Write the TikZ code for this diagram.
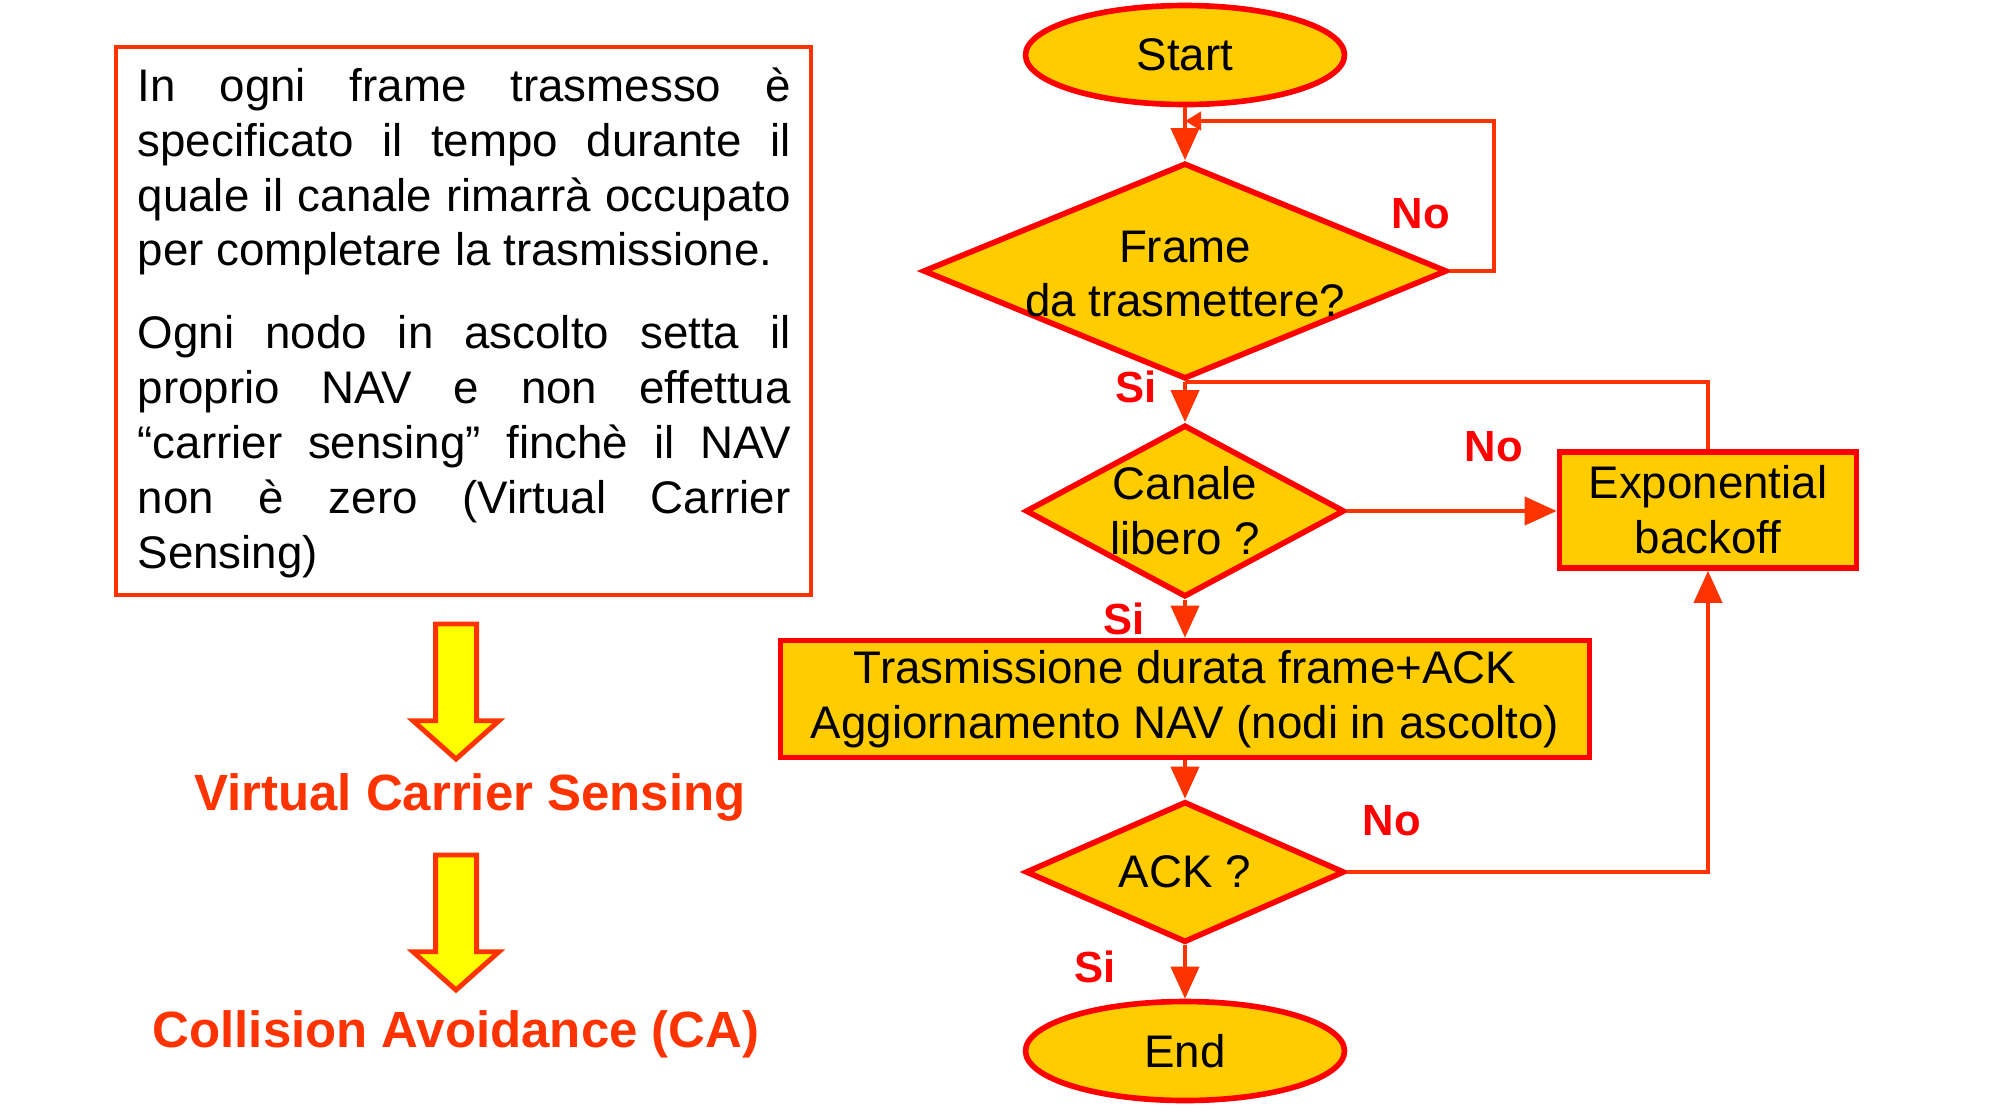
\documentclass[tikz,border=0pt]{standalone}
\usepackage{fontspec}
\setmainfont{Liberation Sans}
\usetikzlibrary{arrows.meta,shapes.geometric}
\definecolor{flowfill}{HTML}{FFCC00}
\definecolor{flowline}{HTML}{FF3300}
\definecolor{flowred}{HTML}{FF0000}
\definecolor{arrowfill}{HTML}{FFFF00}
\tikzset{
  >={Triangle[length=3.2mm,width=2.8mm]},
  every node/.append style={font=\fontsize{13}{15.6}\selectfont},
}
\tikzset{
  term/.style={ellipse, draw=flowred, fill=flowfill, line width=1.6pt,
               minimum width=31.9mm, minimum height=9.9mm, inner sep=0pt},
  decision/.style={diamond, draw=flowred, fill=flowfill, line width=1.6pt, inner sep=0pt},
  proc/.style={draw=flowred, fill=flowfill, line width=1.6pt, align=center, inner sep=0pt},
  link/.style={->, draw=flowline, line width=1.1pt},
  wire/.style={draw=flowline, line width=1.1pt}
}

\begin{document}
\begin{tikzpicture}[x=0.1mm, y=-0.1mm,
  yes/.style ={font=\fontsize{12.4}{14}\selectfont\bfseries, text=flowred},
  big/.style ={font=\fontsize{14.5}{17}\selectfont\bfseries, text=flowline},
  block/.style={draw=flowline, fill=arrowfill, line width=1.4pt, line join=miter},
  note/.style ={inner sep=0pt, text width=65.3mm, align=justify, anchor=north west}
]
\useasboundingbox (0,0) rectangle (2002,1104);

% flowchart
\node[term] (start) at (1185,55) {Start};
\node[decision, minimum width=52.4mm, minimum height=21.6mm,
  label={[align=center, yshift=-0.3mm]center:Frame\\da trasmettere?}] (frame) at (1185,271) {};
\node[decision, minimum width=31.9mm, minimum height=17.2mm,
  label={[align=center]center:Canale\\libero ?}] (canale) at (1185,511) {};
\node[proc, minimum width=29.7mm, minimum height=11.6mm] (expo) at (1708,510) {Exponential\\backoff};
\node[proc, minimum width=80.9mm, minimum height=11.7mm] (tx) at (1185,699)
  {Trasmissione durata frame+ACK\\Aggiornamento NAV (nodi in ascolto)};
\node[decision, minimum width=31.9mm, minimum height=14.1mm,
  label={center:ACK ?}] (ack) at (1185,872) {};
\node[term] (end) at (1185,1051) {End};

\coordinate (back) at (1185,121);

\draw[link] (start) -- (frame);
\draw[wire, -{Triangle[length=1.6mm,width=1.8mm]}] (frame.east) -- ++(44,0) |- (back);
\draw[link] (frame) -- (canale);
\draw[wire] (frame.south) -| (expo.north);
\draw[link] (canale.east) -- (canale.east -| expo.west);
\draw[link] (canale) -- (tx);
\draw[link] (tx) -- (ack);
\draw[link] (ack.east) -| (expo.south);
\draw[link] (ack) -- (end);

\node[yes] (no1) at (1421,214) {No};
\node[yes] (si1) at (1136,387) {Si};
\node[yes] (no2) at (1494,447) {No};
\node[yes] (si2) at (1124,619) {Si};
\node[yes] (no3) at (1392,821) {No};
\node[yes] (si3) at (1095,967) {Si};

% left column
\node[draw=flowline, line width=1.2pt, minimum width=69.5mm, minimum height=54.8mm] (notebox) at (463.5,321) {};
\node[note] (notetext) at (137,67)
  {\hyphenpenalty=10000
   In ogni frame trasmesso è\linebreak
   specificato il tempo durante il\linebreak
   quale il canale rimarrà occupato\linebreak
   per completare la trasmissione.\\[8pt]
   Ogni nodo in ascolto setta il\linebreak
   proprio NAV e non effettua\linebreak
   “carrier sensing” finchè il NAV\linebreak
   non è zero (Virtual Carrier\linebreak
   Sensing)};

\foreach \y in {0,231}{
  \draw[block] (435.7,{624+\y}) -- (476.7,{624+\y}) -- (476.7,{720.7+\y}) -- (499,{720.7+\y})
    -- (456,{759+\y}) -- (413,{720.7+\y}) -- (435.7,{720.7+\y}) -- cycle;
}

\node[big] (vcs) at (470,797) {Virtual Carrier Sensing};
\node[big] (ca) at (456,1034) {Collision Avoidance (CA)};

\end{tikzpicture}
\end{document}
